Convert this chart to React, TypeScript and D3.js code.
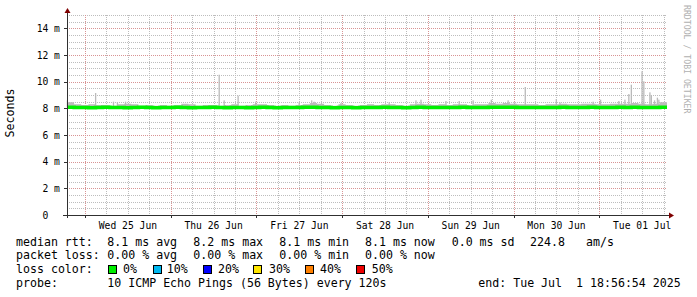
import React from 'react';
import * as d3 from 'd3';

// ---- data ----
const START = new Date(2025, 5, 24, 18, 56, 54);
const END = new Date(2025, 6, 1, 18, 56, 54);
const BIN_HOURS = 2;

// median rtt (ms) per 2h bin
const medianMs = [
  8.08, 8.06, 8.07, 8.05, 8.06, 8.08, 8.07, 8.06, 8.05, 8.07, 8.08, 8.06,
  8.05, 8.07, 8.06, 8.08, 8.07, 8.05, 8.06, 8.07, 8.08, 8.06, 8.05, 8.07,
  8.06, 8.05, 8.07, 8.08, 8.06, 8.05, 8.06, 8.07, 8.06, 8.08, 8.09, 8.07,
  8.06, 8.05, 8.07, 8.06, 8.05, 8.06, 8.07, 8.06, 8.08, 8.07, 8.06, 8.05,
  8.07, 8.08, 8.07, 8.06, 8.07, 8.06, 8.07, 8.08, 8.06, 8.07, 8.07, 8.09,
  8.08, 8.09, 8.08, 8.07, 8.07, 8.06, 8.06, 8.07, 8.07, 8.08, 8.07, 8.06,
  8.07, 8.08, 8.07, 8.06, 8.07, 8.08, 8.07, 8.08, 8.07, 8.06, 8.07, 8.08,
];

// top of the smoke band (ms) per 2h bin
const smokeTopMs = [
  8.45, 8.3, 8.25, 8.3, 8.25, 8.25, 8.2, 8.3, 8.35, 8.3, 8.2, 8.25,
  8.2, 8.25, 8.2, 8.25, 8.35, 8.3, 8.2, 8.25, 8.25, 8.2, 8.25, 8.3,
  8.2, 8.25, 8.3, 8.3, 8.25, 8.2, 8.25, 8.2, 8.25, 8.3, 8.4, 8.35,
  8.25, 8.2, 8.3, 8.25, 8.2, 8.25, 8.3, 8.25, 8.3, 8.3, 8.25, 8.2,
  8.3, 8.35, 8.3, 8.25, 8.3, 8.25, 8.3, 8.3, 8.25, 8.3, 8.3, 8.4,
  8.35, 8.4, 8.35, 8.3, 8.3, 8.3, 8.25, 8.3, 8.3, 8.35, 8.3, 8.3,
  8.35, 8.35, 8.3, 8.3, 8.35, 8.35, 8.35, 8.4, 8.35, 8.3, 8.35, 8.45,
];
const smokeBottomMs = 7.98;

// isolated ping spikes: hours after start, value (ms)
const spikeHours = [
  0.1, 8.0, 13.0, 14.1, 16.4, 42.6, 44.0, 47.9, 52.8, 65.0, 68.5, 69.2,
  76.7, 90.2, 97.7, 99.1, 106.1, 109.8, 113.7, 118.8, 123.5, 125.3, 128.3,
  137.0, 138.0, 147.3, 149.4, 154.5, 156.2, 157.3, 158.0, 161.0, 161.5,
  163.2, 163.6, 164.5, 165.3, 165.7,
];
const spikeMs = [
  8.6, 9.15, 8.5, 8.45, 8.5, 10.52, 8.6, 8.95, 8.5, 8.45, 8.6, 8.5,
  8.4, 8.45, 8.6, 8.65, 8.55, 8.55, 8.6, 8.65, 8.6, 8.45, 9.6,
  8.7, 8.45, 8.5, 8.65, 8.55, 8.65, 9.07, 9.77, 10.78, 10.03,
  9.2, 9.0, 8.6, 8.8, 8.65,
];

const yMajorTicks = [0, 2, 4, 6, 8, 10, 12, 14];
const yMax = 15;

const rttLabel = 'median rtt:';
const rttItems = ['8.1 ms avg', '8.2 ms max', '8.1 ms min', '8.1 ms now', '0.0 ms sd', '224.8', 'am/s'];
const lossLabel = 'packet loss:';
const lossItems = ['0.00 % avg', '0.00 % max', '0.00 % min', '0.00 % now'];
const colorLabel = 'loss color:';
const lossColorNames = ['0%', '10%', '20%', '30%', '40%', '50%'];
const lossColors = ['#00ee00', '#00b8f0', '#0000ff', '#ffe600', '#ff8000', '#ee0000'];
const probeLabel = 'probe:';
const probeText = '10 ICMP Echo Pings (56 Bytes) every 120s';
const endText = 'end: Tue Jul  1 18:56:54 2025';
const yAxisTitle = 'Seconds';
const watermark = 'RRDTOOL / TOBI OETIKER';

// ---- layout ----
const W = 697, H = 297;
const X0 = 67, X1 = 667, Y0 = 215, Y1 = 15;
const rttX = [107.3, 193.3, 279.3, 365, 451.7, 530, 586];
const lossX = [107.3, 193.3, 279.3, 365];
const sqX = [108.3, 153.3, 202.7, 253.3, 305, 356.3];
const sqTextX = [123, 166.7, 218, 269, 320, 371.7];
const MONO = '"DejaVu Sans Mono", monospace';

export default function App() {
  const x = d3.scaleTime().domain([START, END]).range([X0, X1]);
  const y = d3.scaleLinear().domain([0, yMax]).range([Y0, Y1]);

  const binTimes = medianMs.map((_, i) => d3.timeMinute.offset(START, i * BIN_HOURS * 60));
  const binPts = binTimes.map((t, i) => ({ t, m: medianMs[i], top: smokeTopMs[i] }));
  binPts.push({ t: END, m: medianMs[medianMs.length - 1], top: smokeTopMs[smokeTopMs.length - 1] });

  const smokeArea = d3.area<any>()
    .x((d) => x(d.t))
    .y0(() => y(smokeBottomMs))
    .y1((d) => y(d.top))
    .curve(d3.curveStepAfter);
  const medianLine = d3.line<any>()
    .x((d) => x(d.t))
    .y((d) => y(d.m))
    .curve(d3.curveStepAfter);

  const days = d3.timeDay.range(START, END);
  const sixHours = d3.timeHour.every(6)!.range(START, END).filter((t) => t.getHours() !== 0);
  const noons = d3.timeHour.every(12)!.range(START, END).filter((t) => t.getHours() === 12);
  const fmt = d3.timeFormat('%a %d %b');

  const yMinor = d3.range(0.5, yMax + 0.001, 0.5).filter((v) => v % 2 !== 0);

  const medAt = (h: number) => {
    const i = Math.min(medianMs.length - 1, Math.floor(h / BIN_HOURS));
    return medianMs[i];
  };

  return (
    <svg width={W} height={H} style={{ position: 'absolute', left: 0, top: 0, background: '#fff' }}
      xmlns="http://www.w3.org/2000/svg">
      <rect x={0} y={0} width={W} height={H} fill="#ffffff" />
      {/* grid */}
      <g shapeRendering="crispEdges">
        {yMinor.map((v) => (
          <line key={'hm' + v} x1={X0} x2={X1} y1={Math.round(y(v)) + 0.5} y2={Math.round(y(v)) + 0.5}
            stroke="#bdbdbd" strokeDasharray="1,1" />
        ))}
        {sixHours.map((t, i) => (
          <line key={'vm' + i} x1={Math.round(x(t)) + 0.5} x2={Math.round(x(t)) + 0.5} y1={Y1} y2={Y0}
            stroke="#bdbdbd" strokeDasharray="1,1" />
        ))}
        {yMajorTicks.filter((v) => v > 0).map((v) => (
          <line key={'hM' + v} x1={X0} x2={X1} y1={Math.round(y(v)) + 0.5} y2={Math.round(y(v)) + 0.5}
            stroke="#d89494" strokeDasharray="1,1" />
        ))}
        {days.map((t, i) => (
          <line key={'vM' + i} x1={Math.round(x(t)) + 0.5} x2={Math.round(x(t)) + 0.5} y1={Y1} y2={Y0}
            stroke="#d89494" strokeDasharray="1,1" />
        ))}
      </g>
      {/* smoke */}
      <path d={smokeArea(binPts) || ''} fill="#bcbcbc" />
      {spikeHours.map((h, i) => {
        const t = d3.timeMinute.offset(START, h * 60);
        const m = medAt(h);
        return (
          <rect key={'s' + i} x={x(t) - 0.6} width={1.3} y={y(spikeMs[i])}
            height={y(m) - y(spikeMs[i])} fill="#bababa" />
        );
      })}
      {/* median */}
      <path d={medianLine(binPts) || ''} fill="none" stroke="#00f000" strokeWidth={3.5} />

      {/* axes */}
      <g shapeRendering="crispEdges" stroke="#303030">
        <line x1={63} x2={670} y1={Y0 + 0.5} y2={Y0 + 0.5} />
        <line x1={X0 + 0.5} x2={X0 + 0.5} y1={218} y2={12} />
        {yMajorTicks.map((v) => (
          <line key={'yt' + v} x1={64} x2={X0} y1={Math.round(y(v)) + 0.5} y2={Math.round(y(v)) + 0.5} />
        ))}
        {days.map((t, i) => (
          <line key={'xt' + i} x1={Math.round(x(t)) + 0.5} x2={Math.round(x(t)) + 0.5} y1={Y0} y2={Y0 + 3} />
        ))}
      </g>
      <path d={`M${X0 + 0.5},8 L${X0 - 2.5},13 L${X0 + 3.5},13 Z`} fill="#7f0000" />
      <path d={`M674,${Y0 + 0.5} L669,${Y0 - 2.5} L669,${Y0 + 3.5} Z`} fill="#7f0000" />

      {/* y labels */}
      <g fontFamily={MONO} fontSize={9.7} fill="#000">
        {yMajorTicks.map((v) => (
          <g key={'yl' + v}>
            <text x={48.3} y={y(v) + 3.5} textAnchor="end">{String(v)}</text>
            {v > 0 && <text x={54} y={y(v) + 3.5}>m</text>}
          </g>
        ))}
        {noons.map((t, i) => (
          <text key={'xl' + i} x={x(t)} y={228.5} textAnchor="middle" xmlSpace="preserve">{fmt(t)}</text>
        ))}
      </g>

      <text x={0} y={0} transform="translate(13.5,113) rotate(-90)" textAnchor="middle"
        fontFamily={MONO} fontSize={11.6} fill="#000">{yAxisTitle}</text>
      <text x={0} y={0} transform="translate(683.5,5) rotate(90)" textAnchor="start"
        fontFamily={MONO} fontSize={8.2} fill="#b0b0b0">{watermark}</text>

      {/* legend */}
      <g fontFamily={MONO} fontSize={11.6} fill="#000" xmlSpace="preserve">
        <text x={16} y={245.5}>{rttLabel}</text>
        {rttItems.map((s, i) => (<text key={'r' + i} x={rttX[i]} y={245.5}>{s}</text>))}
        <text x={16} y={259.3}>{lossLabel}</text>
        {lossItems.map((s, i) => (<text key={'l' + i} x={lossX[i]} y={259.3}>{s}</text>))}
        <text x={16} y={273.2}>{colorLabel}</text>
        {lossColorNames.map((s, i) => (
          <g key={'c' + i}>
            <rect x={Math.round(sqX[i]) + 0.5} y={265.5} width={8} height={8} fill={lossColors[i]}
              stroke="#000" strokeWidth={1} shapeRendering="crispEdges" />
            <text x={sqTextX[i]} y={273.2}>{s}</text>
          </g>
        ))}
        <text x={16} y={287.2}>{probeLabel}</text>
        <text x={107.3} y={287.2}>{probeText}</text>
        <text x={478.3} y={287.2} style={{ whiteSpace: 'pre' }}>{endText}</text>
      </g>
    </svg>
  );
}
